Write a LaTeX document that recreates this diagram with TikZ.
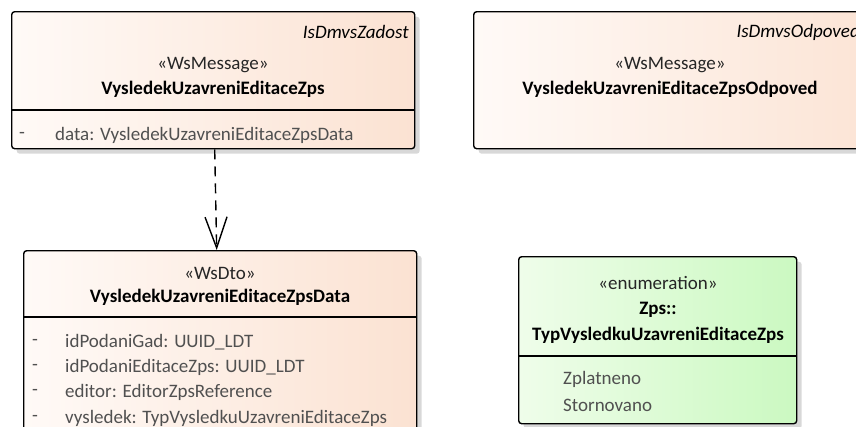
\documentclass[tikz,border=0pt]{standalone}
\usepackage{fontspec}
\setmainfont{Carlito}
\usetikzlibrary{arrows.meta,shadows}
\definecolor{peachL}{HTML}{FFFAF7}
\definecolor{peachR}{HTML}{FBE2D2}
\definecolor{greenL}{HTML}{EFFDEA}
\definecolor{greenR}{HTML}{CBF9C1}
\definecolor{attr}{HTML}{505050}
\definecolor{shadowc}{HTML}{D8D8D8}
\tikzset{
  umlbox/.style={draw=black, line width=1.4pt, rounded corners=3pt, inner sep=0pt, anchor=north west,
    drop shadow={shadow xshift=5pt, shadow yshift=-5pt, fill=shadowc, opacity=1}},
  peach/.style={umlbox, left color=peachL, right color=peachR},
  green/.style={umlbox, left color=greenL, right color=greenR},
  sep/.style={line width=1.2pt},
  txt/.style={inner sep=0pt, font=\fontsize{19}{22}\selectfont},
  ster/.style={txt, text=black!85},
  ttl/.style={txt, font=\fontsize{19}{22}\selectfont\bfseries},
  tag/.style={txt, font=\fontsize{19}{22}\selectfont\itshape, anchor=east},
  att/.style={txt, text=attr, anchor=west},
  dep/.style={line width=1.4pt, dash pattern=on 10pt off 7pt, -{Straight Barb[length=31pt,width=22pt,line width=1.4pt]}}
}
\begin{document}
\begin{tikzpicture}[x=1pt,y=-1pt]
\useasboundingbox (0,0) rectangle (856,426);
\clip (0,0) rectangle (856,426);
% box 1
\node[peach, minimum width=403pt, minimum height=137pt] (b1) at (11,11) {};
\draw[sep] (11,110) -- (414,110);
\node[tag] (b1tag) at (409,32) {IsDmvsZadost};
\node[ster] (b1st) at (213,65) {«WsMessage»};
\node[ttl] (b1t) at (213,89) {VysledekUzavreniEditaceZps};
\node[att] (b1d) at (19,135) {-};
\node[att] (b1a) at (55,135) {data: VysledekUzavreniEditaceZpsData};
% box 2
\node[peach, minimum width=440pt, minimum height=137pt] (b2) at (473,11) {};
\node[tag] (b2tag) at (860,32) {IsDmvsOdpoved};
\node[ster] (b2st) at (670,65) {«WsMessage»};
\node[ttl] (b2t) at (670,89) {VysledekUzavreniEditaceZpsOdpoved};
% box 3
\node[peach, minimum width=393pt, minimum height=220pt] (b3) at (23,250) {};
\draw[sep] (23,317) -- (416,317);
\node[ster] (b3st) at (220,273) {«WsDto»};
\node[ttl] (b3t) at (220,297) {VysledekUzavreniEditaceZpsData};
\foreach \yy/\tt [count=\i] in {342/{idPodaniGad: UUID\_LDT}, 367/{idPodaniEditaceZps: UUID\_LDT}, 392/{editor: EditorZpsReference}, 418/{vysledek: TypVysledkuUzavreniEditaceZps}}{
  \node[att] (b3d\i) at (32,\yy) {-};
  \node[att] (b3a\i) at (65,\yy) {\tt};
}
% box 4
\node[green, minimum width=278pt, minimum height=167pt] (b4) at (518,256) {};
\draw[sep] (518,356) -- (796,356);
\node[ster] (b4st) at (658,283) {«enumeration»};
\node[ttl] (b4p) at (658,310) {Zps::};
\node[ttl] (b4t) at (658,335) {TypVysledkuUzavreniEditaceZps};
\node[att] (b4l1) at (563,379) {Zplatneno};
\node[att] (b4l2) at (563,405) {Stornovano};
% dependency
\draw[dep] ([xshift=1.5pt]b1.south) -- ([xshift=-3.5pt]b3.north);
\end{tikzpicture}
\end{document}
